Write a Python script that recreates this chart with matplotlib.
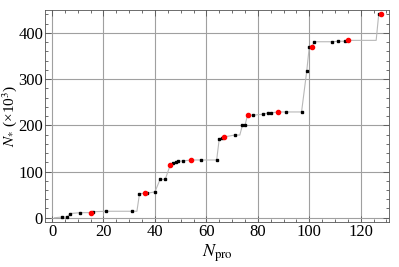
import numpy as np
import matplotlib.pyplot as plt
from matplotlib.ticker import MultipleLocator

plt.rcParams['font.family'] = 'Liberation Serif'
plt.rcParams['mathtext.fontset'] = 'stix'

# line vertices
line_n = [1, 4, 6, 7, 11, 15, 16, 21, 31, 33, 34, 36, 37, 40, 42, 44, 46, 47, 48, 49, 51, 54,
          58, 64, 65, 66, 67, 71, 73, 74, 75, 76, 78, 82, 84, 85, 88, 91, 97, 99, 100, 101,
          102, 109, 111, 114, 115, 126, 127, 128]
line_v = [0, 1.5, 1.5, 9, 11, 11, 13, 14, 14, 14, 52, 53, 53, 56, 83, 83, 115, 118, 121, 122, 123, 125,
          125, 125, 171, 172, 175, 179, 179, 200, 200, 222, 222, 224, 227, 227, 229, 229, 229, 317, 370, 370,
          381, 381, 382, 382, 384, 384, 441, 441]

# black points
black_n = [4, 6, 7, 11, 16, 21, 31, 34, 37, 40, 42, 44, 47, 48, 49, 51, 58, 64, 65, 66, 71,
           74, 75, 78, 82, 84, 85, 91, 97, 99, 100, 102, 109, 111, 114, 127]
black_v = [1.5, 1.5, 9, 11, 13, 14, 14, 52, 53, 56, 83, 83, 118, 121, 122, 123, 125, 125, 171, 172, 179,
           200, 200, 222, 224, 227, 227, 229, 229, 317, 370, 381, 381, 382, 382, 441]

# red points
red_n = [15, 36, 46, 54, 67, 76, 88, 101, 115, 128]
red_v = [11, 53, 115, 125, 175, 222, 229, 370, 384, 441]

fig = plt.figure(figsize=(3.99, 2.67), dpi=100)
ax = fig.add_axes([0.113, 0.169, 0.862, 0.794])

ax.plot(line_n, line_v, color='#b8b8b8', lw=0.8, zorder=2)
ax.plot(black_n, black_v, 's', color='black', ms=1.6, zorder=3)
ax.plot(red_n, red_v, 'o', color='red', ms=3.0, zorder=4)

ax.set_xlim(-2.7, 131)
ax.set_ylim(-9, 450)
ax.xaxis.set_major_locator(MultipleLocator(20))
ax.xaxis.set_minor_locator(MultipleLocator(5))
ax.yaxis.set_major_locator(MultipleLocator(100))
ax.yaxis.set_minor_locator(MultipleLocator(20))
ax.tick_params(which='both', direction='in', top=True, right=True, labelsize=12, width=0.6,
               color='#555555', pad=1.5)
ax.tick_params(which='major', length=4)
ax.tick_params(which='minor', length=2)
ax.grid(True, which='major', color='#a0a0a0', lw=0.8)
for s in ax.spines.values():
    s.set_linewidth(0.6)
    s.set_color('#555555')

ax.set_xlabel(r'$N_{\mathrm{pro}}$', fontsize=13, labelpad=2)
ax.set_ylabel(r'$N_{*}$ (×10$^3$)', fontsize=11)
ax.yaxis.set_label_coords(-0.077, 0.5)

fig.savefig('out.png', dpi=100)
